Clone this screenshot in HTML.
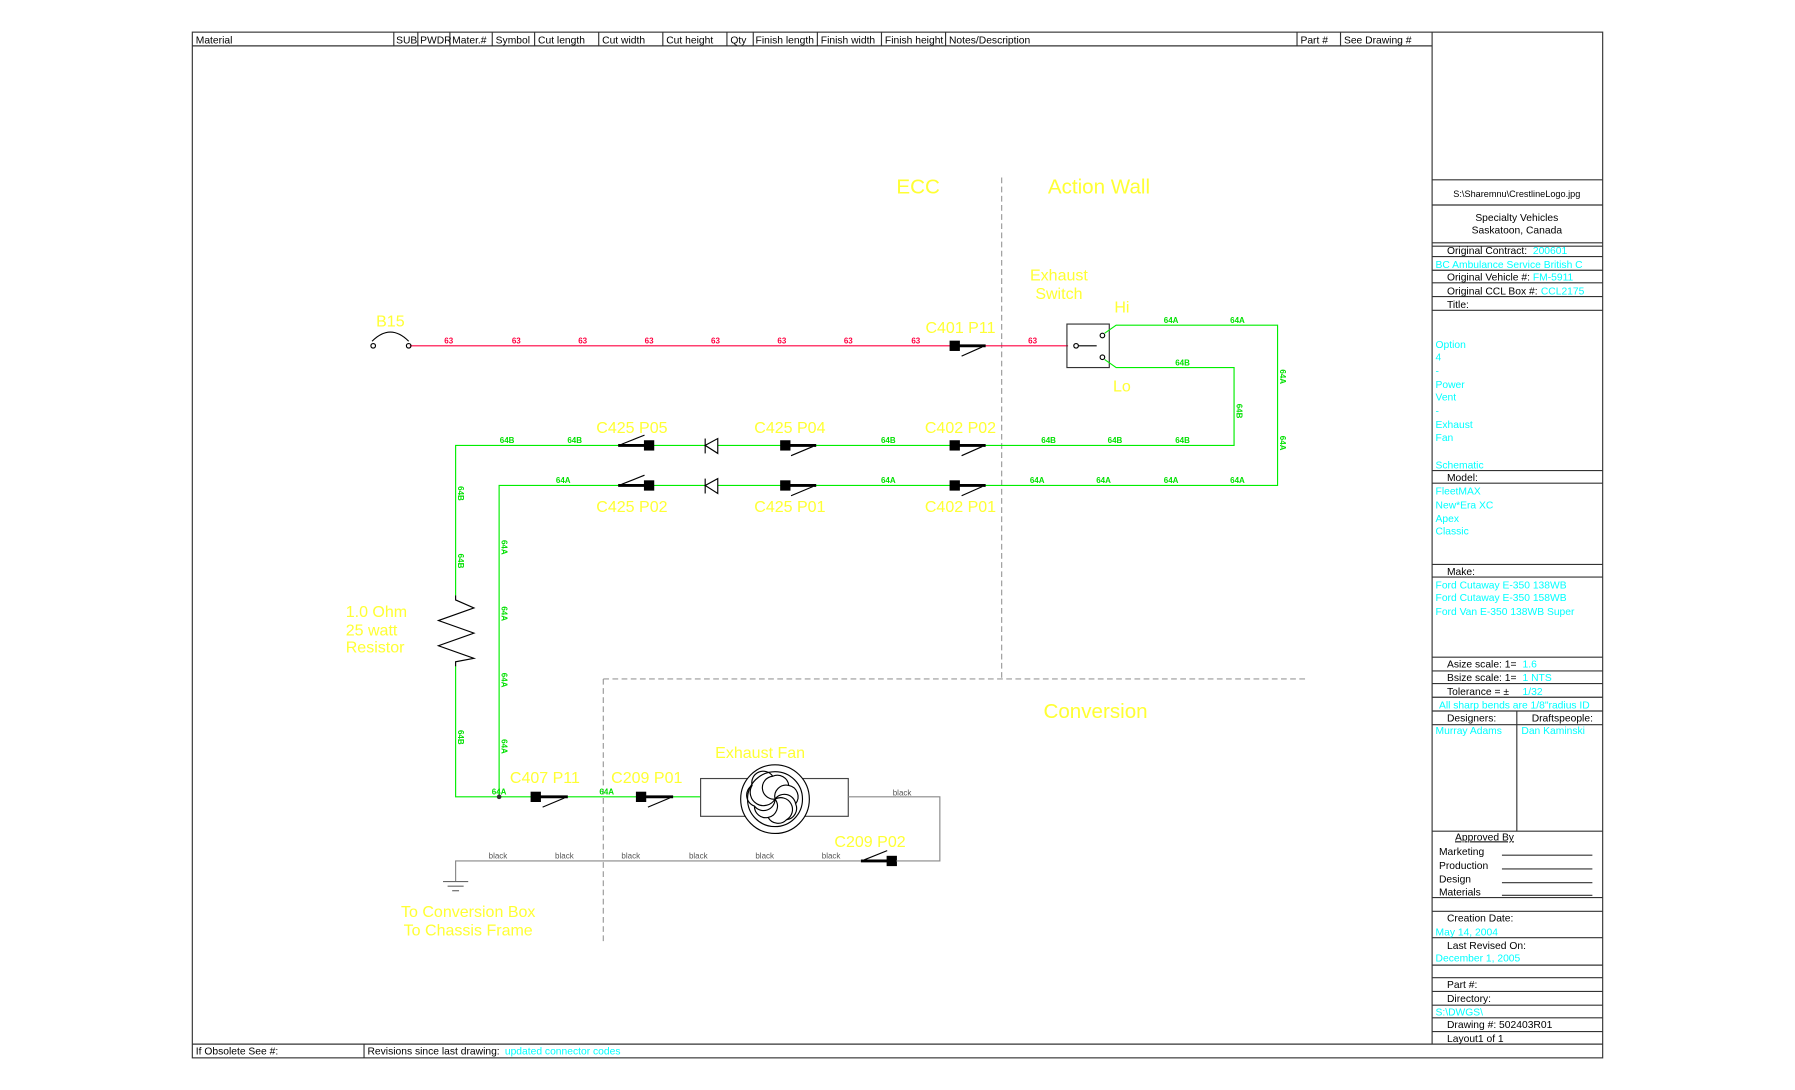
<!DOCTYPE html>
<html><head><meta charset="utf-8"><style>
html,body{margin:0;padding:0;background:#fff;}
svg{display:block;}
text{font-family:"Liberation Sans",sans-serif;}
.h{font-size:9px;fill:#000;}
.tb{font-size:9px;fill:#000;}
.cy{font-size:9px;fill:#00ffff;}
.y{fill:#ffff33;font-size:14px;}
.yb{fill:#ffff33;font-size:18px;}
.g{fill:#00e000;font-size:7px;font-weight:bold;}
.r{fill:#ff0040;font-size:7px;font-weight:bold;}
.k{fill:#555;font-size:7px;}
</style></head><body>
<svg width="1795" height="1090" viewBox="0 0 1568 952" xmlns="http://www.w3.org/2000/svg">
<rect x="0" y="0" width="1568" height="952" fill="#fff"/>
<!-- frame -->
<g stroke="#333" stroke-width="1" fill="none">
<rect x="168" y="28" width="1232" height="896"/>
<line x1="168" y1="40" x2="1251" y2="40"/>
<line x1="1251" y1="28" x2="1251" y2="912"/>
<line x1="168" y1="912" x2="1400" y2="912"/>
<line x1="318" y1="912" x2="318" y2="924"/>
<g>
<line x1="344" y1="28" x2="344" y2="40"/><line x1="365" y1="28" x2="365" y2="40"/><line x1="393" y1="28" x2="393" y2="40"/>
<line x1="430" y1="28" x2="430" y2="40"/><line x1="467" y1="28" x2="467" y2="40"/><line x1="523" y1="28" x2="523" y2="40"/>
<line x1="579" y1="28" x2="579" y2="40"/><line x1="635" y1="28" x2="635" y2="40"/><line x1="658" y1="28" x2="658" y2="40"/>
<line x1="714" y1="28" x2="714" y2="40"/><line x1="770" y1="28" x2="770" y2="40"/><line x1="826" y1="28" x2="826" y2="40"/>
<line x1="1133" y1="28" x2="1133" y2="40"/><line x1="1171" y1="28" x2="1171" y2="40"/>
</g>
<!-- title block rows -->
<g>
<line x1="1251" y1="157" x2="1400" y2="157"/><line x1="1251" y1="179" x2="1400" y2="179"/>
<line x1="1251" y1="212" x2="1400" y2="212"/><line x1="1251" y1="215" x2="1400" y2="215"/>
<line x1="1251" y1="224" x2="1400" y2="224"/><line x1="1251" y1="236" x2="1400" y2="236"/>
<line x1="1251" y1="247" x2="1400" y2="247"/><line x1="1251" y1="259" x2="1400" y2="259"/>
<line x1="1251" y1="271" x2="1400" y2="271"/><line x1="1251" y1="411" x2="1400" y2="411"/>
<line x1="1251" y1="422" x2="1400" y2="422"/><line x1="1251" y1="493" x2="1400" y2="493"/>
<line x1="1251" y1="504" x2="1400" y2="504"/><line x1="1251" y1="574" x2="1400" y2="574"/>
<line x1="1251" y1="586" x2="1400" y2="586"/><line x1="1251" y1="597" x2="1400" y2="597"/>
<line x1="1251" y1="609" x2="1400" y2="609"/><line x1="1251" y1="621" x2="1400" y2="621"/>
<line x1="1251" y1="633" x2="1400" y2="633"/><line x1="1325" y1="621" x2="1325" y2="726"/>
<line x1="1251" y1="726" x2="1400" y2="726"/><line x1="1251" y1="784" x2="1400" y2="784"/>
<line x1="1251" y1="796" x2="1400" y2="796"/><line x1="1251" y1="819" x2="1400" y2="819"/>
<line x1="1251" y1="843" x2="1400" y2="843"/><line x1="1251" y1="854" x2="1400" y2="854"/>
<line x1="1251" y1="866" x2="1400" y2="866"/><line x1="1251" y1="878" x2="1400" y2="878"/>
<line x1="1251" y1="889" x2="1400" y2="889"/><line x1="1251" y1="901" x2="1400" y2="901"/>
<line x1="1312" y1="747" x2="1391" y2="747"/><line x1="1312" y1="759" x2="1391" y2="759"/>
<line x1="1312" y1="771" x2="1391" y2="771"/><line x1="1312" y1="782" x2="1391" y2="782"/>
</g>
</g>
<g class="h">
<text x="171" y="38">Material</text><text x="346" y="38">SUB</text><text x="367" y="38">PWDR</text><text x="395" y="38">Mater.#</text>
<text x="433" y="38">Symbol</text><text x="470" y="38">Cut length</text><text x="526" y="38">Cut width</text><text x="582" y="38">Cut height</text>
<text x="638" y="38">Qty</text><text x="660" y="38">Finish length</text><text x="717" y="38">Finish width</text><text x="773" y="38">Finish height</text>
<text x="829" y="38">Notes/Description</text><text x="1136" y="38">Part #</text><text x="1174" y="38">See Drawing #</text>
<text x="171" y="921">If Obsolete See #:</text><text x="321" y="921">Revisions since last drawing:</text>
</g>
<text x="441" y="921" class="cy">updated connector codes</text>
<!-- title block text -->
<g class="tb">
<text x="1325" y="172" text-anchor="middle" font-size="8">S:\Sharemnu\CrestlineLogo.jpg</text>
<text x="1325" y="193" text-anchor="middle">Specialty Vehicles</text>
<text x="1325" y="204" text-anchor="middle">Saskatoon, Canada</text>
<text x="1264" y="222">Original Contract:</text>
<text x="1264" y="245">Original Vehicle #:</text>
<text x="1264" y="257">Original CCL Box #:</text>
<text x="1264" y="269">Title:</text>
<text x="1264" y="420">Model:</text>
<text x="1264" y="502">Make:</text>
<text x="1264" y="583">Asize scale:  1=</text>
<text x="1264" y="595">Bsize scale:  1=</text>
<text x="1264" y="607">Tolerance = ±</text>
<text x="1264" y="630">Designers:</text>
<text x="1338" y="630">Draftspeople:</text>
<text x="1271" y="734" text-decoration="underline">Approved By</text>
<text x="1257" y="747">Marketing</text><text x="1257" y="759">Production</text>
<text x="1257" y="771">Design</text><text x="1257" y="782">Materials</text>
<text x="1264" y="805">Creation Date:</text>
<text x="1264" y="829">Last Revised On:</text>
<text x="1264" y="863">Part #:</text>
<text x="1264" y="875">Directory:</text>
<text x="1264" y="898">Drawing #: 502403R01</text>
<text x="1264" y="910">Layout1 of 1</text>
</g>
<g class="cy">
<text x="1339" y="222">200601</text>
<text x="1254" y="234">BC Ambulance Service British C</text>
<text x="1339" y="245">FM-5911</text>
<text x="1346" y="257">CCL2175</text>
<text x="1254" y="304">Option</text><text x="1254" y="315">4</text><text x="1254" y="327">-</text>
<text x="1254" y="339">Power</text><text x="1254" y="350">Vent</text><text x="1254" y="362">-</text>
<text x="1254" y="374">Exhaust</text><text x="1254" y="385">Fan</text><text x="1254" y="409">Schematic</text>
<text x="1254" y="432">FleetMAX</text><text x="1254" y="444">New*Era XC</text><text x="1254" y="456">Apex</text><text x="1254" y="467">Classic</text>
<text x="1254" y="514">Ford Cutaway E-350 138WB</text><text x="1254" y="525">Ford Cutaway E-350 158WB</text><text x="1254" y="537">Ford Van E-350 138WB Super</text>
<text x="1330" y="583">1.6</text><text x="1330" y="595">1   NTS</text><text x="1330" y="607">1/32</text>
<text x="1257" y="619">All sharp bends are 1/8"radius ID</text>
<text x="1254" y="641">Murray Adams</text><text x="1329" y="641">Dan Kaminski</text>
<text x="1254" y="817">May 14, 2004</text><text x="1254" y="840">December 1, 2005</text>
<text x="1254" y="887">S:\DWGS\</text>
</g>

<!-- dashed boundaries -->
<g stroke="#999" stroke-width="1" stroke-dasharray="5,3" fill="none">
<line x1="875" y1="155" x2="875" y2="593"/>
<line x1="527" y1="593" x2="1143" y2="593"/>
<line x1="527" y1="593" x2="527" y2="825"/>
</g>
<text x="802" y="169" class="yb" text-anchor="middle">ECC</text>
<text x="960" y="169" class="yb" text-anchor="middle">Action  Wall</text>
<text x="957" y="627" class="yb" text-anchor="middle">Conversion</text>

<!-- red wire -->
<line x1="358" y1="302" x2="933" y2="302" stroke="#ff0040" stroke-width="1"/>
<g fill="none" stroke="#000" stroke-width="1">
<circle cx="326" cy="302" r="2"/><circle cx="357" cy="302" r="2"/>
<path d="M325 298 Q341 282 357 298"/>
<rect x="932" y="283" width="37" height="38" stroke="#333"/>
<circle cx="940" cy="302" r="2"/><line x1="942" y1="302" x2="958" y2="302"/>
<circle cx="963" cy="293" r="2"/><circle cx="963" cy="312" r="2"/>
</g>
<text x="341" y="285" class="y" text-anchor="middle">B15</text>
<g class="r" text-anchor="middle">
<text x="392" y="300">63</text><text x="451" y="300">63</text><text x="509" y="300">63</text><text x="567" y="300">63</text>
<text x="625" y="300">63</text><text x="683" y="300">63</text><text x="741" y="300">63</text><text x="800" y="300">63</text><text x="902" y="300">63</text>
</g>

<!-- green wires -->
<g fill="none" stroke="#00ee00" stroke-width="1">
<polyline points="965,291 975,284 1116,284 1116,424 436,424 436,696"/>
<polyline points="965,314 975,321 1078,321 1078,389 398,389 398,520"/>
<polyline points="398,582 398,696 612,696"/>
</g>
<polyline points="398,520 398,524 414,531 383,542 414,553 383,564 414,575 398,578 398,582" fill="none" stroke="#000" stroke-width="1"/>
<circle cx="436" cy="696" r="2" fill="#333"/>

<!-- connectors -->
<g fill="#000" stroke="#000">
<!-- right-facing: square then bar right, slash down -->
<rect x="830" y="298" width="8" height="8"/><line x1="838" y1="302" x2="861" y2="302" stroke-width="2.5"/><line x1="840" y1="311" x2="858" y2="303" stroke-width="1"/>
<rect x="830" y="385" width="8" height="8"/><line x1="838" y1="389" x2="861" y2="389" stroke-width="2.5"/><line x1="840" y1="398" x2="858" y2="390" stroke-width="1"/>
<rect x="830" y="420" width="8" height="8"/><line x1="838" y1="424" x2="861" y2="424" stroke-width="2.5"/><line x1="840" y1="433" x2="858" y2="425" stroke-width="1"/>
<rect x="682" y="385" width="8" height="8"/><line x1="690" y1="389" x2="713" y2="389" stroke-width="2.5"/><line x1="691" y1="398" x2="710" y2="390" stroke-width="1"/>
<rect x="682" y="420" width="8" height="8"/><line x1="690" y1="424" x2="713" y2="424" stroke-width="2.5"/><line x1="691" y1="433" x2="710" y2="425" stroke-width="1"/>
<rect x="464" y="692" width="8" height="8"/><line x1="472" y1="696" x2="496" y2="696" stroke-width="2.5"/><line x1="474" y1="705" x2="493" y2="697" stroke-width="1"/>
<rect x="556" y="692" width="8" height="8"/><line x1="564" y1="696" x2="588" y2="696" stroke-width="2.5"/><line x1="566" y1="705" x2="585" y2="697" stroke-width="1"/>
<!-- left-facing: bar left then square, slash up -->
<rect x="563" y="385" width="8" height="8"/><line x1="540" y1="389" x2="563" y2="389" stroke-width="2.5"/><line x1="543" y1="388" x2="563" y2="380" stroke-width="1"/>
<rect x="563" y="420" width="8" height="8"/><line x1="540" y1="424" x2="563" y2="424" stroke-width="2.5"/><line x1="543" y1="423" x2="563" y2="415" stroke-width="1"/>
<rect x="775" y="748" width="8" height="8"/><line x1="752" y1="752" x2="775" y2="752" stroke-width="2.5"/><line x1="755" y1="751" x2="775" y2="743" stroke-width="1"/>
</g>
<!-- diodes -->
<g fill="#fff" stroke="#000" stroke-width="1">
<line x1="616" y1="383" x2="616" y2="396"/><polygon points="616,389 627,383 627,396"/>
<line x1="616" y1="418" x2="616" y2="431"/><polygon points="616,424 627,418 627,431"/>
</g>
<g class="y" text-anchor="middle">
<text x="839" y="291">C401  P11</text>
<text x="552" y="378">C425  P05</text><text x="690" y="378">C425  P04</text><text x="839" y="378">C402  P02</text>
<text x="552" y="447">C425  P02</text><text x="690" y="447">C425  P01</text><text x="839" y="447">C402  P01</text>
<text x="925" y="245">Exhaust</text><text x="925" y="261">Switch</text>
<text x="980" y="273">Hi</text><text x="980" y="342">Lo</text>
<text x="476" y="684">C407  P11</text><text x="565" y="684">C209  P01</text>
<text x="664" y="662">Exhaust  Fan</text><text x="760" y="740">C209  P02</text>
<text x="409" y="801">To Conversion Box</text><text x="409" y="817">To Chassis Frame</text>
</g>
<g class="y">
<text x="302" y="539">1.0  Ohm</text><text x="302" y="555">25  watt</text><text x="302" y="570">Resistor</text>
</g>
<!-- green labels -->
<g class="g" text-anchor="middle">
<text x="1023" y="282">64A</text><text x="1081" y="282">64A</text><text x="1033" y="319">64B</text>
<text x="443" y="387">64B</text><text x="502" y="387">64B</text><text x="776" y="387">64B</text><text x="916" y="387">64B</text><text x="974" y="387">64B</text><text x="1033" y="387">64B</text>
<text x="492" y="422">64A</text><text x="776" y="422">64A</text><text x="906" y="422">64A</text><text x="964" y="422">64A</text><text x="1023" y="422">64A</text><text x="1081" y="422">64A</text>
<text x="436" y="694">64A</text><text x="530" y="694">64A</text>
</g>
<g class="g" text-anchor="middle">
<text transform="translate(400,431) rotate(90)">64B</text>
<text transform="translate(400,490) rotate(90)">64B</text>
<text transform="translate(400,644) rotate(90)">64B</text>
<text transform="translate(438,478) rotate(90)">64A</text>
<text transform="translate(438,536) rotate(90)">64A</text>
<text transform="translate(438,594) rotate(90)">64A</text>
<text transform="translate(438,652) rotate(90)">64A</text>
<text transform="translate(1080,359) rotate(90)">64B</text>
<text transform="translate(1118,329) rotate(90)">64A</text>
<text transform="translate(1118,387) rotate(90)">64A</text>
</g>
<!-- fan -->
<g fill="none" stroke="#444" stroke-width="1">
<rect x="612" y="680" width="129" height="33"/>
</g>
<circle cx="677" cy="698" r="30" fill="#fff" stroke="#000"/>
<circle cx="677" cy="698" r="24" fill="none" stroke="#000"/>
<g fill="none" stroke="#000" stroke-width="1">
<path d="M677 698 a10 10 0 0 1 -2 -20 a10 10 0 0 1 14 8"/>
<path d="M677 698 a10 10 0 0 1 12 -12 a10 10 0 0 1 6 16"/>
<path d="M677 698 a10 10 0 0 1 18 4 a10 10 0 0 1 -8 14"/>
<path d="M677 698 a10 10 0 0 1 10 18 a10 10 0 0 1 -16 -2"/>
<path d="M677 698 a10 10 0 0 1 -6 16 a10 10 0 0 1 -12 -10"/>
<path d="M677 698 a10 10 0 0 1 -18 6 a10 10 0 0 1 -2 -18"/>
<path d="M677 698 a10 10 0 0 1 -20 -12 a10 10 0 0 1 18 -8"/>
</g>
<!-- black wire -->
<g fill="none" stroke="#888" stroke-width="1">
<polyline points="741,696 821,696 821,752 783,752"/>
<polyline points="752,752 398,752 398,770"/>
</g>
<g stroke="#666" stroke-width="1">
<line x1="387" y1="770" x2="409" y2="770"/><line x1="391" y1="774" x2="405" y2="774"/><line x1="395" y1="778" x2="401" y2="778"/>
</g>
<g class="k" text-anchor="middle">
<text x="788" y="695">black</text>
<text x="435" y="750">black</text><text x="493" y="750">black</text><text x="551" y="750">black</text>
<text x="610" y="750">black</text><text x="668" y="750">black</text><text x="726" y="750">black</text>
</g>
</svg>
</body></html>
